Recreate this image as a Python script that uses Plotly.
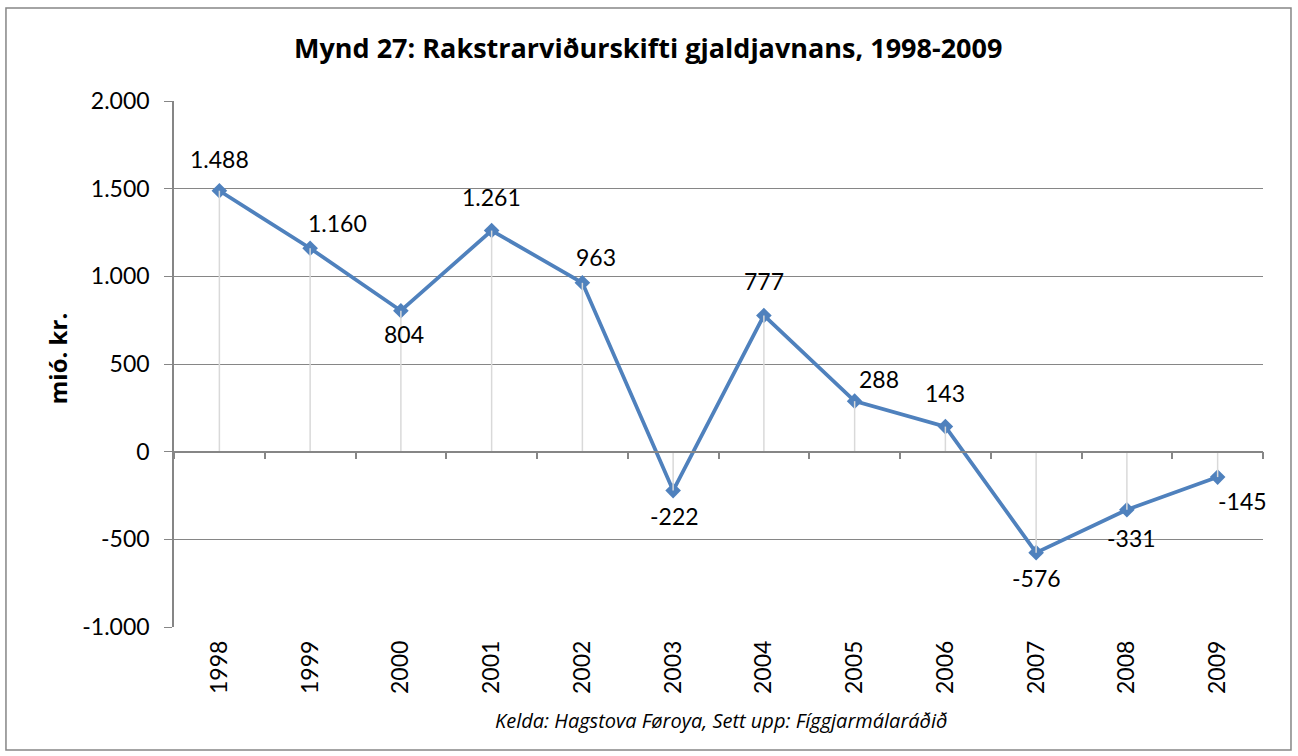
import plotly.graph_objects as go

years = ["1998", "1999", "2000", "2001", "2002", "2003", "2004", "2005", "2006", "2007", "2008", "2009"]
values = [1488, 1160, 804, 1261, 963, -222, 777, 288, 143, -576, -331, -145]
y_ticks = [-1000, -500, 0, 500, 1000, 1500, 2000]

# label offsets in pixels (dx, dy up)
label_offsets = [(0, 32), (27, 25), (3, -23), (0, 34), (14, 26), (1, -25),
                 (0, 34), (24, 22), (0, 34), (0, -25), (5, -28), (25, -24)]

FONT = "Lato"
TFONT = "Open Sans"
GRAY = "#868686"
BLUE = "#4F81BD"

xs = list(range(len(years)))

def fmt(v):
    return f"{v:,}".replace(",", ".")

drop_x, drop_y = [], []
for x, v in zip(xs, values):
    drop_x += [x, x, None]
    drop_y += [0, v, None]

fig = go.Figure()
fig.add_trace(go.Scatter(x=drop_x, y=drop_y, mode="lines", xaxis="x2", yaxis="y",
                         line=dict(color="#d9d9d9", width=1.5), hoverinfo="skip", showlegend=False))
fig.add_trace(go.Scatter(x=xs, y=values, mode="lines+markers",
                         line=dict(color=BLUE, width=3.75),
                         marker=dict(symbol="diamond", size=12, color=BLUE),
                         showlegend=False))

annotations = []
for x, v, (dx, dy) in zip(xs, values, label_offsets):
    annotations.append(dict(x=x, y=v, xref="x", yref="y", text=fmt(v), showarrow=False,
                            xshift=dx, yshift=dy, font=dict(family=FONT, size=23, color="black")))

annotations.append(dict(x=0.435, y=1.1008, xref="paper", yref="paper",
                        text="<b>Mynd 27: Rakstrarviðurskifti gjaldjavnans, 1998-2009</b>",
                        showarrow=False, xanchor="center", yanchor="middle",
                        font=dict(family=TFONT, size=27, color="black")))
annotations.append(dict(x=-0.107, y=0.51, xref="paper", yref="paper",
                        text="<b>mió. kr.</b>", textangle=-90, showarrow=False,
                        xanchor="center", yanchor="middle",
                        font=dict(family=TFONT, size=24, color="black")))
annotations.append(dict(x=0.503, y=-0.177, xref="paper", yref="paper",
                        text="<i>Kelda: Hagstova Føroya, Sett upp: Fíggjarmálaráðið</i>",
                        showarrow=False, xanchor="center", yanchor="middle",
                        font=dict(family=TFONT, size=20, color="black")))

fig.update_layout(
    width=1298, height=756,
    margin=dict(l=174, r=35, t=101, b=129),
    paper_bgcolor="white", plot_bgcolor="white",
    showlegend=False,
    annotations=annotations,
    shapes=[dict(type="rect", xref="paper", yref="paper",
                 x0=-0.1543, x1=1.0257, y0=-0.2338, y1=1.1768,
                 line=dict(color=GRAY, width=1.5), fillcolor="rgba(0,0,0,0)", layer="below")],
    xaxis=dict(range=[-0.5, 11.5], tickvals=xs, ticktext=years, tickangle=-90,
               ticks="", showline=False, showgrid=False, zeroline=False,
               ticklabelstandoff=8,
               tickfont=dict(family=FONT, size=23, color="black")),
    xaxis2=dict(range=[-0.5, 11.5], overlaying="x", anchor="free", position=1/3, side="bottom",
                tickvals=[i - 0.5 for i in range(len(years) + 1)], ticks="outside", ticklen=7,
                tickcolor=GRAY, tickwidth=1.5, showline=True, linecolor=GRAY, linewidth=1.5,
                showticklabels=False, showgrid=False, zeroline=False),
    yaxis=dict(range=[-1000, 2000], tickvals=y_ticks, ticktext=[fmt(t) for t in y_ticks],
               showgrid=True, gridcolor=GRAY, gridwidth=1, showline=True, linecolor=GRAY,
               linewidth=1.5, ticks="outside", ticklen=8, tickcolor=GRAY, zeroline=False,
               ticklabelstandoff=10,
               tickfont=dict(family=FONT, size=23, color="black")),
)

fig.write_html("out.html", config={"displayModeBar": False},
               post_script="document.body.style.margin='0';")
